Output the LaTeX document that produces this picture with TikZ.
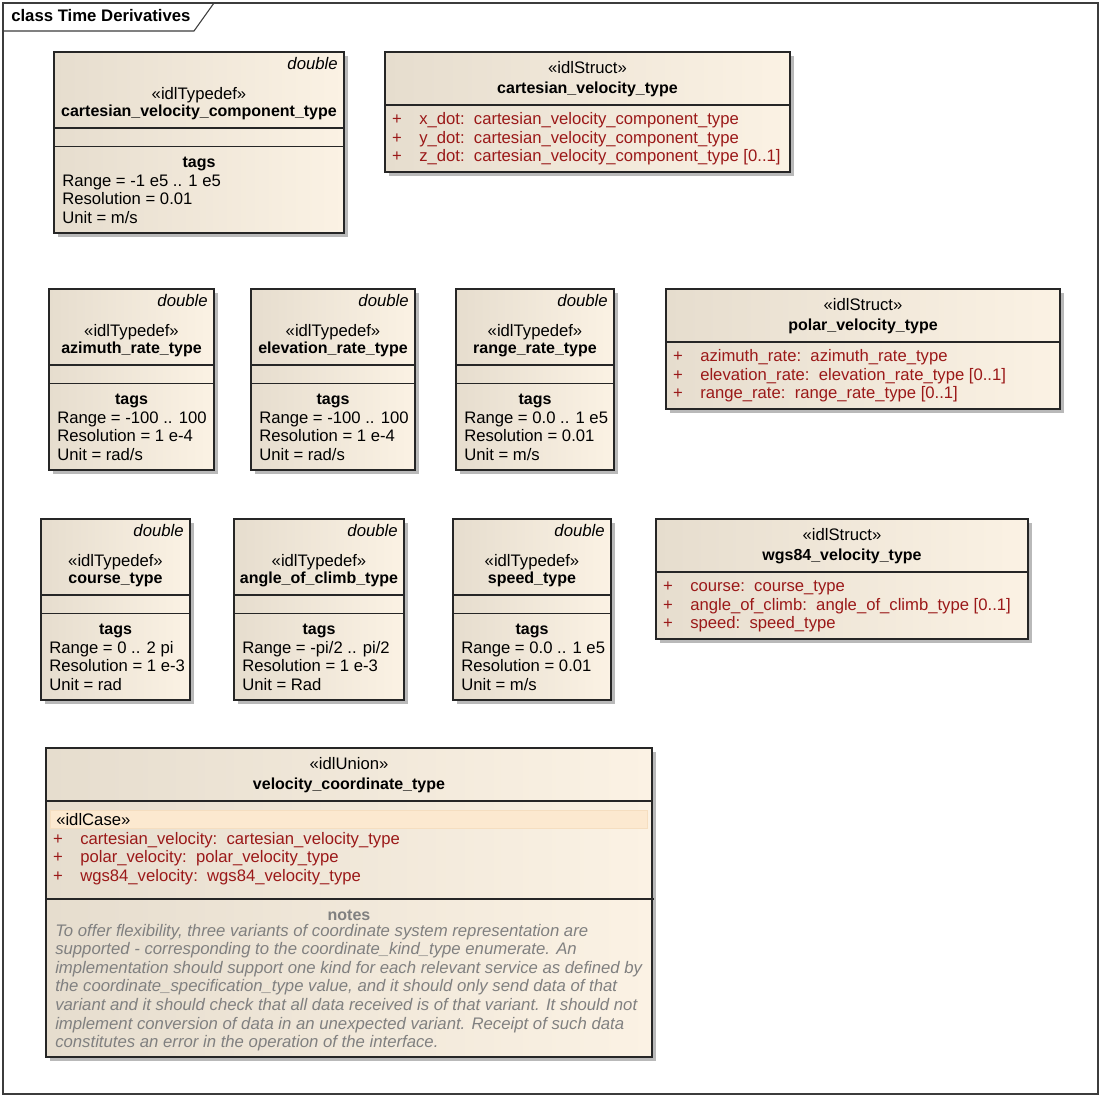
\documentclass[tikz,border=0pt]{standalone}
\usepackage{fontspec}
\setmainfont{Liberation Sans}
\definecolor{boxL}{RGB}{230,221,206}
\definecolor{boxR}{RGB}{251,242,228}
\definecolor{attrc}{RGB}{155,25,25}
\definecolor{notegray}{RGB}{128,128,128}
\definecolor{casefill}{RGB}{252,233,208}
\definecolor{caseline}{RGB}{245,222,192}
\definecolor{shadowc}{RGB}{185,185,185}
\definecolor{framec}{RGB}{60,60,60}
\tikzset{
 umlbox/.style={draw=black!85, line width=0.9pt, left color=boxL, right color=boxR, inner sep=0pt, outer sep=0pt, anchor=north west},
 txt/.style={inner sep=0pt, font=\fontsize{12.5}{14}\selectfont},
 boldtxt/.style={inner sep=0pt, font=\fontsize{12}{14}\selectfont\bfseries},
 titletxt/.style={inner sep=0pt, font=\fontsize{12.55}{14}\selectfont\bfseries},
 itxt/.style={inner sep=0pt, font=\fontsize{12.55}{14}\selectfont\itshape},
 atxt/.style={txt, text=attrc},
 ntxt/.style={itxt, text=notegray},
 divider/.style={draw=black!85, line width=0.9pt},
 shadowbox/.style={fill=shadowc},
}
% typedef box: name, left, top, right, typename, range, resolution, unit
\newcommand\tdbox[8]{%
 \pgfmathsetmacro\bw{(#4-#2)*0.75}%
 \fill[shadowbox] (#2+4,#3+4) rectangle (#4+4,#3+185);
 \node[umlbox, minimum width=\bw pt, minimum height=135.75pt] (#1) at (#2,#3) {};
 \draw[divider] (#2,#3+76) -- (#4,#3+76);
 \draw[divider] (#2,#3+94.5) -- (#4,#3+94.5);
 \node[itxt, anchor=base east] (#1-dbl) at (#4-6,#3+17.5) {double};
 \node[txt, anchor=base] (#1-st) at ({(#2+#4)/2},#3+47) {«idlTypedef»};
 \node[boldtxt, anchor=base] (#1-nm) at ({(#2+#4)/2},#3+64.5) {#5};
 \node[boldtxt, anchor=base] (#1-tg) at ({(#2+#4)/2},#3+115) {tags};
 \node[txt, anchor=base west] (#1-r) at (#2+8,#3+134) {Range = #6};
 \node[txt, anchor=base west] (#1-s) at (#2+8,#3+152.5) {Resolution = #7};
 \node[txt, anchor=base west] (#1-u) at (#2+8,#3+171) {Unit = #8};
}
% struct box: name, left, top, right, typename, attr1, attr2, attr3
\newcommand\stbox[8]{%
 \pgfmathsetmacro\bw{(#4-#2)*0.75}%
 \fill[shadowbox] (#2+4,#3+4) rectangle (#4+4,#3+124);
 \node[umlbox, minimum width=\bw pt, minimum height=90pt] (#1) at (#2,#3) {};
 \draw[divider] (#2,#3+53) -- (#4,#3+53);
 \node[txt, anchor=base] (#1-st) at ({(#2+#4)/2},#3+21.5) {«idlStruct»};
 \node[boldtxt, anchor=base] (#1-nm) at ({(#2+#4)/2},#3+41) {#5};
 \node[atxt, anchor=base] (#1-p1) at (#2+12,#3+72.5) {+};
 \node[atxt, anchor=base] (#1-p2) at (#2+12,#3+91) {+};
 \node[atxt, anchor=base] (#1-p3) at (#2+12,#3+109.5) {+};
 \node[atxt, anchor=base west] (#1-a1) at (#2+34,#3+72.5) {#6};
 \node[atxt, anchor=base west] (#1-a2) at (#2+34,#3+91) {#7};
 \node[atxt, anchor=base west] (#1-a3) at (#2+34,#3+109.5) {#8};
}
\begin{document}
\begin{tikzpicture}[x=0.75pt,y=-0.75pt]
\useasboundingbox (0,0) rectangle (1100,1096);
% frame
\node[draw=framec, line width=0.8pt, inner sep=0pt, outer sep=0pt, anchor=north west, minimum width=821.25pt, minimum height=818.25pt] (frame) at (3,3) {};
\coordinate (tabA) at (3,31);
\coordinate (tabB) at (194,31);
\coordinate (tabC) at (214,3);
\draw[framec, line width=0.8pt] (tabA) -- (tabB) -- (tabC);
\node[titletxt, anchor=base west] (title) at (11,21) {class Time Derivatives};

\tdbox{A}{54}{52}{344}{cartesian\_velocity\_component\_type}{-1 e5 .. 1 e5}{0.01}{m/s}
\stbox{B}{385}{52}{790}{cartesian\_velocity\_type}{x\_dot:\ \ cartesian\_velocity\_component\_type}{y\_dot:\ \ cartesian\_velocity\_component\_type}{z\_dot:\ \ cartesian\_velocity\_component\_type [0..1]}

\tdbox{C}{49}{289}{214}{azimuth\_rate\_type}{-100 .. 100}{1 e-4}{rad/s}
\tdbox{D}{251}{289}{415}{elevation\_rate\_type}{-100 .. 100}{1 e-4}{rad/s}
\tdbox{E}{456}{289}{614}{range\_rate\_type}{0.0 .. 1 e5}{0.01}{m/s}
\stbox{F}{666}{289}{1060}{polar\_velocity\_type}{azimuth\_rate:\ \ azimuth\_rate\_type}{elevation\_rate:\ \ elevation\_rate\_type [0..1]}{range\_rate:\ \ range\_rate\_type [0..1]}

\tdbox{G}{41}{519}{190}{course\_type}{0 .. 2 pi}{1 e-3}{rad}
\tdbox{H}{234}{519}{404}{angle\_of\_climb\_type}{-pi/2 .. pi/2}{1 e-3}{Rad}
\tdbox{I}{453}{519}{611}{speed\_type}{0.0 .. 1 e5}{0.01}{m/s}
\stbox{J}{656}{519}{1028}{wgs84\_velocity\_type}{course:\ \ course\_type}{angle\_of\_climb:\ \ angle\_of\_climb\_type [0..1]}{speed:\ \ speed\_type}

% union
\fill[shadowbox] (50,752) rectangle (656,1061);
\node[umlbox, minimum width=454.5pt, minimum height=231.75pt] (K) at (46,748) {};
\draw[divider] (46,801) -- (652,801);
\draw[fill=casefill, draw=caseline, line width=0.5pt] (50,810) rectangle (647,828);
\draw[divider] (46,899) -- (654,899);
\node[txt, anchor=base] (K-st) at (349,769.5) {«idlUnion»};
\node[boldtxt, anchor=base] (K-nm) at (349,789.5) {velocity\_coordinate\_type};
\node[txt, anchor=base west] (K-case) at (56,825) {«idlCase»};
\node[atxt, anchor=base] (K-p1) at (58,844) {+};
\node[atxt, anchor=base] (K-p2) at (58,862.5) {+};
\node[atxt, anchor=base] (K-p3) at (58,881) {+};
\node[atxt, anchor=base west] (K-a1) at (80,844) {cartesian\_velocity:\ \ cartesian\_velocity\_type};
\node[atxt, anchor=base west] (K-a2) at (80,862.5) {polar\_velocity:\ \ polar\_velocity\_type};
\node[atxt, anchor=base west] (K-a3) at (80,881) {wgs84\_velocity:\ \ wgs84\_velocity\_type};
\node[boldtxt, text=notegray, anchor=base] (K-notes) at (349,920.5) {notes};
\node[ntxt, anchor=base west] (K-n1) at (55,936) {To offer flexibility, three variants of coordinate system representation are};
\node[ntxt, anchor=base west] (K-n2) at (55,954.5) {supported - corresponding to the coordinate\_kind\_type enumerate. An};
\node[ntxt, anchor=base west] (K-n3) at (55,973.2) {implementation should support one kind for each relevant service as defined by};
\node[ntxt, anchor=base west] (K-n4) at (55,991.9) {the coordinate\_specification\_type value, and it should only send data of that};
\node[ntxt, anchor=base west] (K-n5) at (55,1010.5) {variant and it should check that all data received is of that variant. It should not};
\node[ntxt, anchor=base west] (K-n6) at (55,1029.2) {implement conversion of data in an unexpected variant. Receipt of such data};
\node[ntxt, anchor=base west] (K-n7) at (55,1047.9) {constitutes an error in the operation of the interface.};
\end{tikzpicture}
\end{document}
